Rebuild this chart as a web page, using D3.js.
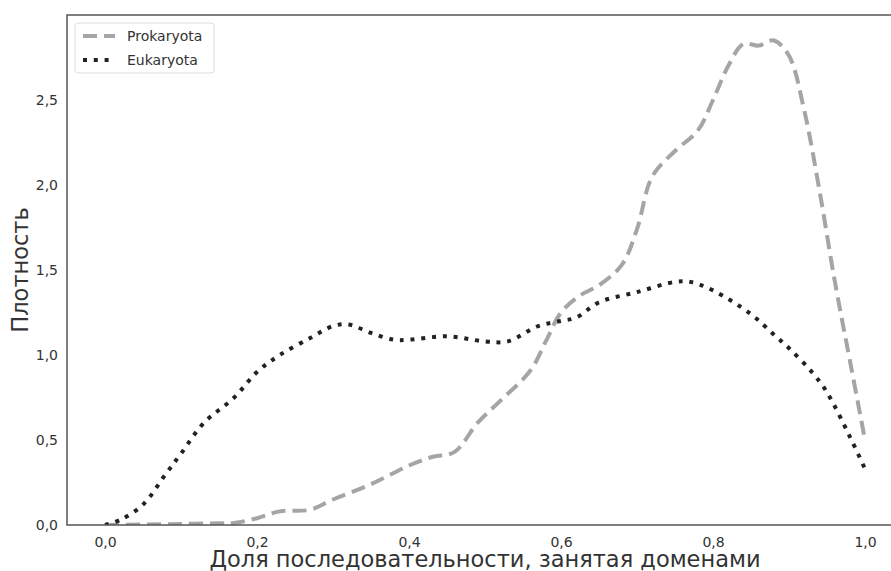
<!DOCTYPE html>
<html>
<head>
<meta charset="utf-8">
<script src="https://cdn.jsdelivr.net/npm/d3@7"></script>
<style>
body{margin:0;background:#fff;}
text{font-family:"DejaVu Sans",sans-serif;}
</style>
</head>
<body>
<script>
// DATA
var xTicks = [0, 0.2, 0.4, 0.6, 0.8, 1.0];
var yTicks = [0, 0.5, 1.0, 1.5, 2.0, 2.5];
var seriesNames = ["Prokaryota", "Eukaryota"];

var proX = [0, 0.05, 0.1, 0.15, 0.17, 0.2, 0.23, 0.27, 0.3, 0.35, 0.4, 0.43, 0.46, 0.49, 0.52, 0.56, 0.58, 0.6, 0.625, 0.65, 0.68, 0.7, 0.72, 0.75, 0.78, 0.8, 0.82, 0.84, 0.86, 0.88, 0.9, 0.92, 0.94, 0.96, 0.98, 1.0];
var proY = [0, 0.003, 0.006, 0.01, 0.012, 0.04, 0.08, 0.09, 0.15, 0.24, 0.35, 0.40, 0.43, 0.6, 0.73, 0.91, 1.08, 1.25, 1.35, 1.41, 1.53, 1.74, 2.05, 2.2, 2.32, 2.5, 2.7, 2.83, 2.82, 2.85, 2.76, 2.44, 1.97, 1.44, 0.97, 0.5];

var euX = [0, 0.02, 0.05, 0.08, 0.1, 0.13, 0.17, 0.2, 0.23, 0.27, 0.3, 0.32, 0.35, 0.38, 0.4, 0.45, 0.5, 0.53, 0.57, 0.6, 0.62, 0.65, 0.7, 0.75, 0.77, 0.8, 0.85, 0.88, 0.9, 0.93, 0.95, 0.98, 1.0];
var euY = [0, 0.03, 0.12, 0.3, 0.42, 0.6, 0.75, 0.9, 1.0, 1.1, 1.17, 1.18, 1.13, 1.09, 1.09, 1.11, 1.08, 1.08, 1.17, 1.2, 1.22, 1.31, 1.37, 1.43, 1.43, 1.38, 1.24, 1.12, 1.04, 0.9, 0.78, 0.52, 0.33];

var W = 891, H = 571;
var pLeft = 67, pTop = 15, pRight = 903, pBottom = 525;

var svg = d3.select("body").append("svg")
    .attr("width", W).attr("height", H);

var x = d3.scaleLinear().domain([-0.05, 1.05]).range([pLeft, pRight]);
var y = d3.scaleLinear().domain([0, 3.0]).range([pBottom, pTop]);

var fmt = function(d){ return d3.format(".1f")(d).replace(".", ","); };

// axes (no tick marks, seaborn white style)
var xAxis = svg.append("g").attr("transform", "translate(0," + pBottom + ")")
    .call(d3.axisBottom(x).tickValues(xTicks).tickFormat(fmt).tickSize(0).tickPadding(12));
var yAxis = svg.append("g").attr("transform", "translate(" + pLeft + ",0)")
    .call(d3.axisLeft(y).tickValues(yTicks).tickFormat(fmt).tickSize(0).tickPadding(9));
[xAxis, yAxis].forEach(function(a){
    a.select(".domain").remove();
    a.selectAll("text").attr("font-size", 14).attr("fill", "#333")
        .attr("font-family", "DejaVu Sans");
});

var plot = svg.append("g");
plot.append("clipPath").attr("id", "clip").append("rect")
    .attr("x", pLeft).attr("y", pTop).attr("width", pRight - pLeft).attr("height", pBottom - pTop);

var line = d3.line()
    .x(function(d){ return x(d[0]); })
    .y(function(d){ return y(d[1]); })
    .curve(d3.curveCatmullRom.alpha(0.5));

var proData = d3.zip(proX, proY);
var euData = d3.zip(euX, euY);

plot.append("path").attr("d", line(proData))
    .attr("fill", "none").attr("stroke", "#a5a5a8").attr("stroke-width", 4)
    .attr("stroke-dasharray", "14,7").attr("clip-path", "url(#clip)");
plot.append("path").attr("d", line(euData))
    .attr("fill", "none").attr("stroke", "#222").attr("stroke-width", 4)
    .attr("stroke-dasharray", "4,6.8").attr("clip-path", "url(#clip)");

// spines
svg.append("path")
    .attr("d", "M" + pRight + "," + pTop + "H" + pLeft + "V" + pBottom + "H" + pRight)
    .attr("fill", "none").attr("stroke", "#555").attr("stroke-width", 1.5);

// legend
var leg = svg.append("g").attr("transform", "translate(75,23)");
leg.append("rect").attr("width", 139).attr("height", 50).attr("rx", 3)
    .attr("fill", "#fff").attr("fill-opacity", 0.8).attr("stroke", "#ddd").attr("stroke-width", 1);
var legStyles = [{c:"#a5a5a8", d:"14,7"}, {c:"#222", d:"4,6.8"}];
seriesNames.forEach(function(n, i){
    var yy = 13 + i * 24;
    leg.append("line").attr("x1", 8).attr("x2", 40).attr("y1", yy).attr("y2", yy)
        .attr("stroke", legStyles[i].c).attr("stroke-width", 4).attr("stroke-dasharray", legStyles[i].d);
    leg.append("text").attr("x", 52).attr("y", yy).attr("dy", "0.35em")
        .attr("font-size", 14).attr("fill", "#333").text(n);
});

// axis labels
svg.append("text").attr("x", (pLeft + pRight) / 2).attr("y", 567)
    .attr("text-anchor", "middle").attr("font-size", 22.5).attr("fill", "#333")
    .text("Доля последовательности, занятая доменами");
svg.append("text").attr("transform", "translate(28," + ((pTop + pBottom) / 2) + ") rotate(-90)")
    .attr("text-anchor", "middle").attr("font-size", 22.5).attr("fill", "#333")
    .text("Плотность");
</script>
</body>
</html>
